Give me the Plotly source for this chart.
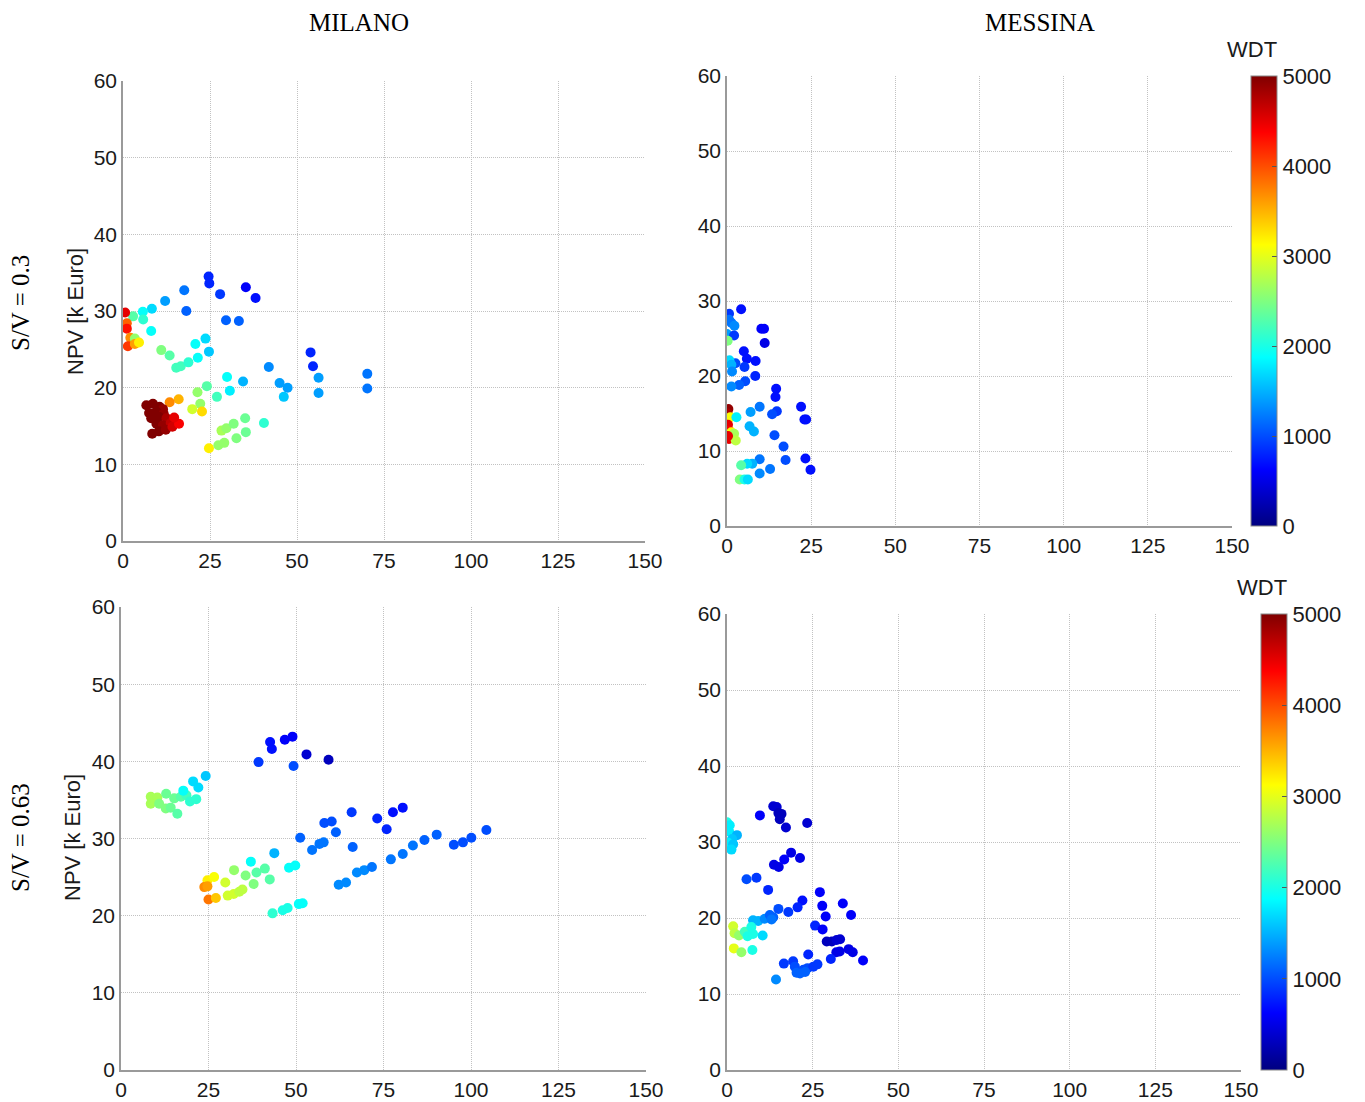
import plotly.graph_objects as go

W, H = 1365, 1102
OFF = 8  # page body margin in the browser

# ---------------- data ----------------
# MILANO, S/V = 0.3
mil03_x = [24.6, 24.8, 17.6, 12.1, 8.3, 5.7, 2.9, 5.8, 8.1, 18.2, 27.9, 35.3, 38.1, 29.6, 33.3,
           0.6, 1.1, 1.1, 2.1, 3.4, 1.4, 3.4, 4.6,
           11.0, 13.4, 15.3, 16.6, 18.8, 21.5, 20.8, 23.7, 24.7,
           29.9, 24.1, 30.7, 27.0, 34.5, 21.4, 22.2, 19.9, 22.7, 16.0, 13.4,
           41.9, 53.9, 54.6, 56.2, 56.2, 45.0, 47.3, 46.2, 70.2, 70.2,
           24.7, 27.4, 29.1, 32.6, 35.3, 28.3, 29.7, 31.8, 35.1, 40.5,
           6.7, 8.6, 10.5, 11.5, 7.5, 9.6, 11.7, 8.1, 10.3, 12.5, 9.6, 11.5, 13.7, 8.4, 10.3, 12.3,
           14.2, 16.1, 14.7]
mil03_y = [34.5, 33.6, 32.7, 31.3, 30.3, 29.9, 29.3, 28.9, 27.4, 30.0, 32.2, 33.1, 31.7, 28.8, 28.7,
           29.8, 28.4, 27.7, 26.5, 26.4, 25.4, 25.7, 25.9,
           24.9, 24.2, 22.6, 22.8, 23.3, 23.9, 25.7, 26.4, 24.7,
           21.4, 20.2, 19.6, 18.8, 20.8, 19.4, 17.9, 17.2, 16.9, 18.5, 18.1,
           22.7, 24.6, 22.8, 21.3, 19.3, 20.6, 20.0, 18.8, 21.8, 19.9,
           12.1, 12.5, 12.8, 13.4, 14.2, 14.4, 14.7, 15.3, 16.0, 15.4,
           17.7, 17.9, 17.5, 17.2, 16.7, 16.9, 16.6, 16.0, 16.2, 16.0, 15.3, 15.1, 15.4, 14.0, 14.3, 14.5,
           14.9, 15.3, 16.1]
mil03_w = [800, 800, 1200, 1400, 1700, 1900, 2300, 2100, 1900, 1100, 900, 600, 700, 1100, 1100,
           4500, 3900, 4300, 3700, 2600, 4100, 3600, 3200,
           2500, 2300, 2200, 2200, 2100, 1900, 1900, 1700, 1600,
           1900, 2300, 1800, 2200, 1500, 2600, 2600, 2900, 3300, 3500, 3700,
           1300, 800, 800, 1400, 1400, 1400, 1400, 1600, 1200, 1200,
           3200, 2600, 2600, 2500, 2400, 2700, 2600, 2500, 2400, 2100,
           5000, 5000, 5000, 4900, 5000, 5000, 4900, 5000, 5000, 4800, 5000, 4900, 4700, 5000, 5000, 4900,
           4600, 4400, 4500]

# MESSINA, S/V = 0.3
mes03_x = [4.2, 0.6, 0.6, 1.3, 2.2, 0.0, 2.1, 0.2, 10.2, 11.0, 11.2, 5.0, 5.9, 8.5, 5.2, 2.5,
           0.7, 1.3, 1.5, 8.4, 5.4, 3.6, 1.3, 14.6, 14.4, 14.8, 13.4, 9.7, 7.0, 6.7, 8.0, 14.1,
           16.8, 17.4, 22.0, 23.0, 23.5, 23.3, 24.8, 12.8, 9.7, 9.7, 7.5, 6.0, 4.2, 3.8, 5.2, 6.2,
           0.4, 0.2, 1.0, 2.8, 0.3, 0.6, 1.3, 2.1, 0.6, 2.6, 0.3]
mes03_y = [28.9, 28.3, 27.5, 27.1, 26.7, 25.6, 25.4, 24.7, 26.3, 26.3, 24.4, 23.3, 22.3, 22.0, 21.2, 21.7,
           22.1, 21.5, 20.6, 20.0, 19.3, 18.8, 18.6, 18.3, 17.2, 15.3, 14.9, 15.9, 15.2, 13.3, 12.6, 12.1,
           10.6, 8.8, 15.9, 14.2, 14.2, 9.0, 7.5, 7.6, 7.0, 8.9, 8.3, 8.3, 8.1, 6.2, 6.2, 6.2,
           15.6, 15.0, 14.5, 14.5, 13.5, 12.7, 12.5, 12.3, 11.6, 11.4, 12.0]
mes03_w = [700, 900, 1200, 1200, 1300, 1400, 900, 2500, 600, 600, 500, 700, 700, 700, 900, 1000,
           1700, 1500, 1300, 800, 1000, 1100, 1300, 700, 700, 900, 1000, 1200, 1400, 1500, 1500, 1000,
           1000, 1000, 700, 700, 700, 700, 700, 1200, 1300, 1200, 1500, 1700, 2300, 2500, 2000, 1700,
           4900, 4800, 3100, 1800, 4500, 4400, 3100, 2700, 4500, 2800, 4500]

# MILANO, S/V = 0.63
mil063_x = [39.3, 42.6, 43.1, 46.8, 49.0, 49.3, 53.0, 59.3,
            8.5, 10.4, 8.5, 10.9, 12.8, 14.2, 16.1, 12.9, 15.2, 17.1, 18.7, 19.7, 21.5, 17.8, 20.6, 22.1, 24.2,
            51.2, 54.6, 56.7, 57.9, 58.1, 60.2, 61.4, 65.9, 66.2, 73.2, 75.9, 77.7, 80.5,
            62.2, 64.3, 67.4, 69.5, 71.7, 77.1, 80.5, 83.4, 86.7, 90.2, 95.1, 97.7, 100.1, 104.4,
            24.7, 26.6, 23.8, 24.7, 25.0, 27.1, 29.8, 30.5, 32.2, 33.8, 34.7, 32.3, 35.6, 37.9, 37.1,
            38.7, 41.1, 42.5, 43.8, 48.0, 49.8, 43.3, 46.2, 47.6, 50.8, 51.9]
mil063_y = [39.9, 42.5, 41.6, 42.8, 43.2, 39.4, 40.9, 40.2,
            35.4, 35.3, 34.5, 34.5, 33.9, 34.0, 33.2, 35.8, 35.2, 35.4, 35.6, 34.8, 35.1, 36.2, 37.4, 36.6, 38.1,
            30.1, 28.5, 29.3, 29.5, 32.0, 32.2, 30.8, 33.4, 28.9, 32.6, 31.2, 33.4, 34.0,
            24.0, 24.3, 25.6, 25.9, 26.3, 27.3, 28.0, 29.1, 29.8, 30.5, 29.2, 29.5, 30.1, 31.1,
            24.6, 25.0, 23.7, 23.8, 22.1, 22.3, 24.3, 22.6, 22.8, 23.1, 23.4, 25.9, 25.2, 24.1, 27.0,
            25.6, 26.1, 24.7, 28.1, 26.2, 26.5, 20.3, 20.7, 21.0, 21.5, 21.6]
mil063_w = [900, 700, 700, 600, 600, 1000, 400, 300,
            2700, 2700, 2700, 2500, 2500, 2400, 2300, 2400, 2400, 2300, 2200, 2100, 2100, 1900, 1700, 1700, 1600,
            1100, 1200, 1200, 1200, 1000, 1000, 1100, 900, 1100, 800, 800, 700, 700,
            1300, 1300, 1300, 1300, 1200, 1200, 1200, 1200, 1100, 1100, 1000, 1000, 1000, 1000,
            3200, 3100, 3700, 3600, 3800, 3400, 2900, 2900, 2900, 2800, 2800, 2600, 2500, 2500, 1900,
            2300, 2300, 2300, 1500, 1900, 1900, 2100, 2000, 2000, 1900, 1900]

# MESSINA, S/V = 0.63
mes063_x = [0.0, 0.8, 0.6, 2.9, 1.5, 0.3, 1.8, 1.3,
            9.6, 13.5, 14.5, 15.0, 15.9, 15.4, 17.2, 23.4,
            13.7, 15.1, 16.7, 18.7, 21.3,
            5.7, 8.6, 12.0, 22.0, 20.6, 15.0, 17.9,
            7.6, 9.1, 11.0, 12.5, 13.5, 13.0,
            1.8, 2.2, 3.5, 5.2, 6.0, 7.1, 7.6, 10.4, 2.0, 4.2, 7.4,
            27.1, 27.8, 28.8, 25.7, 27.9, 29.1, 30.6, 32.0, 33.0, 33.8, 36.2, 35.5, 36.7, 31.9, 32.9,
            23.7, 30.3, 39.7,
            16.6, 19.3, 19.8, 20.3, 22.3, 23.5, 25.2, 26.4, 14.3, 21.3, 22.8]
mes063_y = [32.6, 32.2, 31.4, 30.9, 30.4, 29.9, 29.7, 29.0,
            33.5, 34.7, 34.6, 33.8, 33.7, 33.0, 31.9, 32.5,
            27.0, 26.7, 27.7, 28.6, 27.9,
            25.1, 25.3, 23.7, 22.3, 21.4, 21.2, 20.8,
            19.7, 19.6, 19.9, 20.4, 20.1, 19.8,
            18.9, 18.0, 17.7, 18.2, 17.6, 18.8, 17.9, 17.7, 16.0, 15.5, 15.8,
            23.4, 21.6, 20.2, 19.0, 18.5, 16.9, 16.9, 17.1, 17.2, 21.9, 20.4, 15.9, 15.5, 15.5, 15.6,
            15.2, 14.6, 14.4,
            14.0, 14.3, 13.6, 12.8, 13.2, 13.4, 13.6, 13.9, 11.9, 12.7, 12.9]
mes063_w = [2000, 1800, 1800, 1500, 1600, 1800, 1600, 1700,
            600, 400, 400, 300, 300, 300, 400, 400,
            500, 500, 600, 500, 500,
            1000, 900, 800, 700, 800, 1000, 900,
            1500, 1500, 1300, 1100, 1100, 1200,
            2900, 2800, 2600, 2200, 2000, 2000, 2000, 1700, 3000, 2600, 2000,
            600, 600, 600, 800, 600, 300, 300, 400, 400, 600, 600, 500, 500, 500, 500,
            800, 800, 600,
            900, 900, 1000, 1100, 1000, 1000, 900, 900, 1300, 1100, 1100]

col_titles = ["MILANO", "MESSINA"]
row_titles = ["S/V = 0.3", "S/V = 0.63"]
y_title = "NPV [k Euro]"
cbar_title = "WDT"
x_ticks = [0, 25, 50, 75, 100, 125, 150]
y_ticks = [0, 10, 20, 30, 40, 50, 60]
c_ticks = [0, 1000, 2000, 3000, 4000, 5000]

# ---------------- styling ----------------
jet = [[0.0, "rgb(0,0,128)"], [0.125, "rgb(0,0,255)"], [0.375, "rgb(0,255,255)"],
       [0.625, "rgb(255,255,0)"], [0.875, "rgb(255,0,0)"], [1.0, "rgb(128,0,0)"]]

SANS = "Liberation Sans, Arial, sans-serif"
SERIF = "Liberation Serif, Times New Roman, serif"
TXT = "#1a1a1a"

# panel pixel boxes in the screenshot: (left, right, top, bottom)
boxes = {
    "TL": (123, 645, 81, 541),
    "TR": (727, 1232, 76, 526),
    "BL": (121, 646, 607, 1070),
    "BR": (727, 1241, 614, 1070),
}
cbars = {"TR": (1251, 76, 526), "BR": (1261, 614, 1070)}

def fx(p):
    return (p - OFF) / W

def fy(p):
    return 1 - (p - OFF) / H

fig = go.Figure()

panels = [
    ("TL", mil03_x, mil03_y, mil03_w),
    ("TR", mes03_x, mes03_y, mes03_w),
    ("BL", mil063_x, mil063_y, mil063_w),
    ("BR", mes063_x, mes063_y, mes063_w),
]

for i, (key, xs, ys, ws) in enumerate(panels):
    n = "" if i == 0 else str(i + 1)
    l, r, t, b = boxes[key]
    marker = dict(color=ws, colorscale=jet, cmin=0, cmax=5000, size=10,
                  line=dict(width=0), opacity=1)
    if key in cbars:
        cx, ct, cb = cbars[key]
        marker["showscale"] = True
        marker["colorbar"] = dict(
            x=fx(cx), xanchor="left", xpad=0, ypad=0,
            y=fy(cb), yanchor="bottom", len=(cb - ct) / H, lenmode="fraction",
            thickness=26, thicknessmode="pixels",
            outlinewidth=1, outlinecolor="#888888",
            tickvals=c_ticks, ticks="inside", ticklen=5, tickcolor="#555555",
            tickfont=dict(family=SANS, size=22, color=TXT),
        )
    else:
        marker["showscale"] = False
    fig.add_trace(go.Scatter(x=xs, y=ys, mode="markers", marker=marker,
                             xaxis="x" + n, yaxis="y" + n, showlegend=False,
                             hoverinfo="skip"))
    common = dict(showgrid=True, gridcolor="#c2c2c2", griddash="1px,1px", gridwidth=1,
                  zeroline=False, showline=True, linecolor="#9a9a9a", linewidth=1.5,
                  ticks="", tickfont=dict(family=SANS, size=21, color=TXT), fixedrange=True)
    ax = dict(domain=[fx(l), fx(r)], range=[0, 150], tickvals=x_ticks,
              anchor="y" + n, **common)
    ay = dict(domain=[fy(b), fy(t)], range=[0, 60], tickvals=y_ticks,
              anchor="x" + n, **common)
    fig.update_layout({"xaxis" + n: ax, "yaxis" + n: ay})

ann = []
ann.append(dict(x=fx(359), y=1, text=col_titles[0]))
ann.append(dict(x=fx(1040), y=1, text=col_titles[1]))
for a in ann:
    a.update(xref="paper", yref="paper", showarrow=False, xanchor="center", yanchor="top",
             borderpad=0, font=dict(family=SERIF, size=25, color="#000000"))
row = [
    dict(x=fx(20), y=fy(303), text=row_titles[0]),
    dict(x=fx(20), y=fy(838), text=row_titles[1]),
]
for a in row:
    a.update(xref="paper", yref="paper", showarrow=False, textangle=-90,
             xanchor="center", yanchor="middle",
             font=dict(family=SERIF, size=25, color="#000000"))
npv = [
    dict(x=fx(75), y=fy(312), text=y_title),
    dict(x=fx(72), y=fy(838), text=y_title),
]
for a in npv:
    a.update(xref="paper", yref="paper", showarrow=False, textangle=-90,
             xanchor="center", yanchor="middle",
             font=dict(family=SANS, size=22, color=TXT))
wdt = [
    dict(x=fx(1252), y=fy(50), text=cbar_title),
    dict(x=fx(1262), y=fy(587), text=cbar_title),
]
for a in wdt:
    a.update(xref="paper", yref="paper", showarrow=False, xanchor="center", yanchor="middle",
             font=dict(family=SANS, size=22, color=TXT))

fig.update_layout(
    width=W, height=H, autosize=False,
    margin=dict(l=0, r=0, t=0, b=0, autoexpand=False),
    paper_bgcolor="white", plot_bgcolor="white",
    annotations=ann + row + npv + wdt,
)

fig.write_html("out.html")
